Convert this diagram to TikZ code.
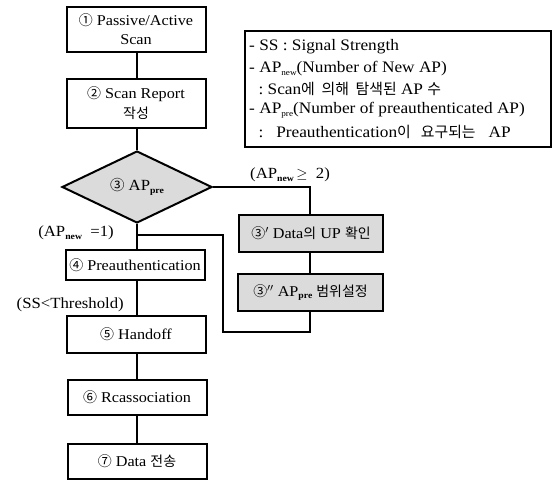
\documentclass[tikz,border=0pt]{standalone}
\usepackage{fontspec}
\setmainfont[FakeStretch=1.08]{Liberation Serif}
\newfontfamily\kr[Scale=0.93]{Noto Sans CJK KR}
\usetikzlibrary{shapes.geometric}
\newcommand\subsc[1]{\raisebox{-0.35ex}{\fontsize{8.5}{8.5}\selectfont #1}}
\newcommand\bsub[1]{\raisebox{-0.35ex}{\fontsize{9}{9}\selectfont\bfseries #1}}
\begin{document}
\begin{tikzpicture}[x=1pt,y=-1pt,
  stepbox/.style={draw,line width=2pt,fill=white,align=center,inner sep=0pt,
    minimum width=139pt,font=\fontsize{15}{19}\selectfont},
  greybox/.style={stepbox,fill=gray!28,minimum width=145pt},
  conn/.style={line width=1.7pt},
  lbl/.style={font=\fontsize{15.5}{18}\selectfont,inner sep=0pt},
  legline/.style={anchor=west,inner sep=0pt,font=\fontsize{16}{18}\selectfont}]
\useasboundingbox (0,0) rectangle (555,481);
% column
\node[stepbox,minimum height=45pt] (b1) at (136,29.5) {{\kr ①} Passive/Active\\Scan};
\node[stepbox,minimum height=49pt] (b2) at (136,103.5) {{\kr ②} Scan Report\\[1pt]{\kr 작성}};
\node[diamond,draw,line width=2pt,fill=gray!28,inner sep=0pt,minimum width=150pt,minimum height=72pt,font=\fontsize{15.5}{18}\selectfont] (d) at (137,187) {{\kr ③} AP\bsub{pre}};
\node[stepbox,minimum height=30pt] (b4) at (135,265) {{\kr ④} Preauthentication};
\node[stepbox,minimum height=37pt] (b5) at (136,334.5) {{\kr ⑤} Handoff};
\node[stepbox,minimum height=35pt] (b6) at (137,397.5) {{\kr ⑥} Rcassociation};
\node[stepbox,minimum height=35pt] (b7) at (137,461.5) {{\kr ⑦} Data {\kr 전송}};
% side branch
\node[greybox,minimum height=37pt,minimum width=144pt] (c1) at (311,233.5) {{\kr ③}$'$ Data{\kr 의} UP {\kr 확인}};
\node[greybox,minimum height=37pt] (c2) at (310.5,292.5) {{\kr ③}$''$ AP\bsub{pre} {\kr 범위설정}};
\coordinate (j) at (137,235);
\coordinate (r1) at (310,187);
\coordinate (lp1) at (310,332);
\coordinate (lp2) at (223,332);
\coordinate (lp3) at (223,235);
\draw[conn] (137,0 |- b1.south) -- (137,0 |- b2.north);
\draw[conn] (137,0 |- b2.south) -- (d.north);
\draw[conn] (d.south) -- (137,0 |- b4.north);
\draw[conn] (d.east) -- (r1) -- (r1 |- c1.north);
\draw[conn] (310,0 |- c1.south) -- (310,0 |- c2.north);
\draw[conn] (310,0 |- c2.south) -- (lp1) -- (lp2) -- (lp3) -- (j);
\draw[conn] (137,0 |- b4.south) -- (137,0 |- b5.north);
\draw[conn] (137,0 |- b5.south) -- (137,0 |- b6.north);
\draw[conn] (137,0 |- b6.south) -- (137,0 |- b7.north);
% labels
\node[lbl,anchor=west] (l1) at (250,175) {(AP\bsub{new}$\,\geq$\ \ 2)};
\node[lbl,anchor=east] (l2) at (114,233) {(AP\bsub{new}\ \ =1)};
\node[lbl,anchor=east] (l3) at (124,305) {(SS<Threshold)};
% legend
\node[draw,line width=2pt,anchor=north west,minimum width=306pt,minimum height=116pt,inner sep=0pt] (leg) at (244,30) {};
\node[legline] (lg1) at (249,47) {-\ SS\ :\ Signal Strength};
\node[legline] (lg2) at (249,69) {-\ AP\subsc{new}(Number of New AP)};
\node[legline] (lg3) at (254,89) {\ :\ Scan{\kr 에\ \ 의해\ \ 탐색된}\ AP\ {\kr 수}};
\node[legline] (lg4) at (249,110) {-\ AP\subsc{pre}(Number of preauthenticated AP)};
\node[legline] (lg5) at (254,132) {\ :\ \ \ Preauthentication{\kr 이\ \ \ 요구되는}\ \ \ AP};
\end{tikzpicture}
\end{document}
